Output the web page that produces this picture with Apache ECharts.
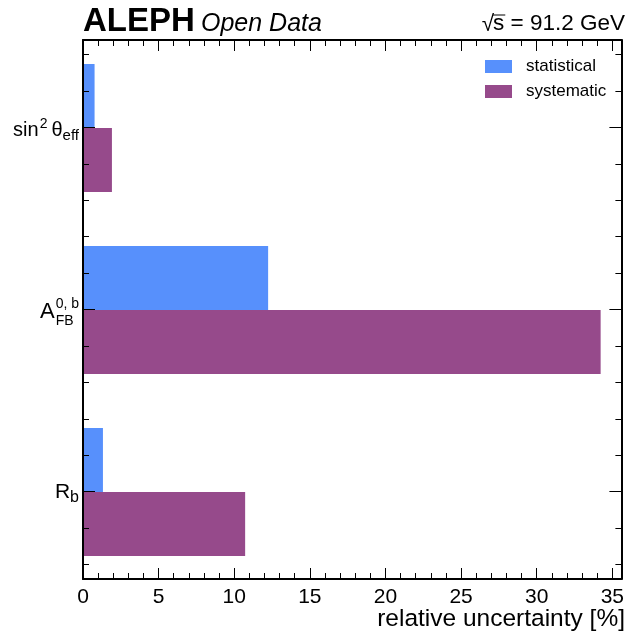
<!DOCTYPE html>
<html><head><meta charset="utf-8">
<script src="https://cdn.jsdelivr.net/npm/echarts@6/dist/echarts.min.js"></script>
<style>html,body{margin:0;padding:0;background:#fff}#c{width:627px;height:637px}</style>
</head><body><div id="c"></div>
<script>
// ---- data ----
const categories = ['Rb', 'AFB', 'sin2theta'];
const statistical = [1.31, 12.16, 0.76];
const systematic = [10.65, 34.0, 1.90];
const seriesNames = ['statistical', 'systematic'];
const xMajorTicks = [0, 5, 10, 15, 20, 25, 30, 35];
const xMinorTicks = [1,2,3,4,6,7,8,9,11,12,13,14,16,17,18,19,21,22,23,24,26,27,28,29,31,32,33,34];
const yMajorTicks = [0, 1, 2];
const yMinorTicks = [-0.4,-0.2,0.2,0.4,0.6,0.8,1.2,1.4,1.6,1.8,2.2,2.4];
const xTitle = 'relative uncertainty [%]';
const X_MAX = 35.6;

// ---- styling ----
const FONT = '"Liberation Sans", Arial, Helvetica, sans-serif';
const BLUE = '#5790fc', PURPLE = '#964a8b';
const chart = echarts.init(document.getElementById('c'), null, {renderer: 'canvas'});

function xAx(position, ticks, len, line, labels) {
  return {
    type: 'value', gridIndex: 0, position: position, min: 0, max: X_MAX, z: 10,
    axisLine: {show: line, onZero: false, lineStyle: {color: '#000', width: 2}},
    axisTick: {show: true, inside: true, length: len, customValues: ticks, lineStyle: {color: '#000', width: 1}},
    axisLabel: labels ? {show: true, customValues: xMajorTicks, color: '#000', fontSize: 21, fontFamily: FONT, margin: 8} : {show: false},
    splitLine: {show: false}
  };
}
function yAx(position, ticks, len, line) {
  return {
    type: 'value', gridIndex: 0, position: position, min: -0.48, max: 2.48, z: 10,
    axisLine: {show: line, onZero: false, lineStyle: {color: '#000', width: 2}},
    axisTick: {show: true, inside: true, length: len, customValues: ticks, lineStyle: {color: '#000', width: 1}},
    axisLabel: {show: false},
    splitLine: {show: false}
  };
}

chart.setOption({
  animation: false,
  backgroundColor: '#fff',
  grid: [
    {left: 83, right: 2, top: 40, bottom: 58},
    {left: 83, right: 2, top: 37, bottom: 54}
  ],
  xAxis: [
    xAx('bottom', xMajorTicks, 11, true, true),
    xAx('bottom', xMinorTicks, 6, false, false),
    xAx('top', xMajorTicks, 11, true, false),
    xAx('top', xMinorTicks, 6, false, false),
    {type: 'value', gridIndex: 1, min: 0, max: X_MAX, show: false}
  ],
  yAxis: [
    yAx('left', yMajorTicks, 12, true),
    yAx('left', yMinorTicks, 6, false),
    yAx('right', yMajorTicks, 12, true),
    yAx('right', yMinorTicks, 6, false),
    {type: 'category', gridIndex: 1, data: categories, show: false}
  ],
  legend: {
    data: seriesNames, orient: 'vertical', left: 485, top: 58, padding: 0,
    itemWidth: 27, itemHeight: 13, itemGap: 8, icon: 'rect',
    textStyle: {fontSize: 17, color: '#000', fontFamily: FONT, padding: [0, 0, 0, 9]}
  },
  series: [
    {name: seriesNames[0], type: 'bar', xAxisIndex: 4, yAxisIndex: 4, data: statistical,
     itemStyle: {color: BLUE}, barGap: '0%', barCategoryGap: '29.7%'},
    {name: seriesNames[1], type: 'bar', xAxisIndex: 4, yAxisIndex: 4, data: systematic,
     itemStyle: {color: PURPLE}, barGap: '0%', barCategoryGap: '29.7%'}
  ]
});

// ---- text helpers ----
const mctx = document.createElement('canvas').getContext('2d');
function fontStr(size, weight, style) { return (style || 'normal') + ' ' + (weight || 'normal') + ' ' + size + 'px ' + FONT; }
function tw(text, font) { mctx.font = font; return mctx.measureText(text).width; }
function txt(text, x, baseline, size, opts) {
  opts = opts || {};
  return {
    type: 'text', x: x, y: baseline - 0.3465 * size, z: 20, silent: true,
    style: {text: text, fill: '#000', font: fontStr(size, opts.weight, opts.style),
            align: opts.align || 'left', verticalAlign: 'middle'}
  };
}

// y-axis category labels built from tokens (super/subscripts)
const labelTokens = [
  [{t: 'R', s: 21, dy: 7}, {t: 'b', s: 16, dy: 11}],
  [{t: 'A', s: 22, dy: 10}, {t: '0, b', s: 14, dy: -1, gap: 1}, {t: 'FB', s: 14, dy: 16, stack: true}],
  [{t: 'sin', s: 20, dy: 9}, {t: '2', s: 14, dy: 1, gap: 1}, {t: '\u03b8', s: 20, dy: 9, gap: 4}, {t: 'eff', s: 15, dy: 13}]
];
const LABEL_RIGHT = 79;
const graphics = [];
labelTokens.forEach(function (tokens, i) {
  const c = chart.convertToPixel({yAxisIndex: 4}, i);
  let x = 0, prevX = 0, prevW = 0;
  const placed = [];
  tokens.forEach(function (tk) {
    const w = tw(tk.t, fontStr(tk.s));
    let left;
    if (tk.stack) { left = prevX; prevW = Math.max(prevW, w); x = prevX + prevW; }
    else { left = x + (tk.gap || 0); prevX = left; prevW = w; x = left + w; }
    placed.push({tk: tk, left: left});
  });
  const shift = LABEL_RIGHT - x;
  placed.forEach(function (p) { graphics.push(txt(p.tk.t, p.left + shift, c + p.tk.dy, p.tk.s)); });
});

// header texts
graphics.push(txt('ALEPH', 83, 33, 33, {weight: 'bold'}));
graphics.push(txt('Open Data', 201, 33, 25, {style: 'italic'}));
(function () {
  const size = 22.5, base = 32, right = 625;
  const rest = ' = 91.2 GeV';
  const wRest = tw(rest, fontStr(size));
  const wS = tw('s', fontStr(size));
  const wR = tw('\u221a', fontStr(size));
  const sLeft = right - wRest - wS;
  graphics.push(txt(rest, right, base, size, {align: 'right'}));
  graphics.push(txt('s', sLeft, base, size));
  graphics.push(txt('\u221a', sLeft - wR + 1, base + 1, size));
  graphics.push({type: 'line', z: 20, silent: true,
    shape: {x1: sLeft, y1: base - 17, x2: sLeft + wS + 1, y2: base - 17},
    style: {stroke: '#000', lineWidth: 1}});
})();
graphics.push(txt(xTitle, 625, 628, 24.5, {align: 'right'}));

chart.setOption({graphic: graphics});
</script>
</body></html>
